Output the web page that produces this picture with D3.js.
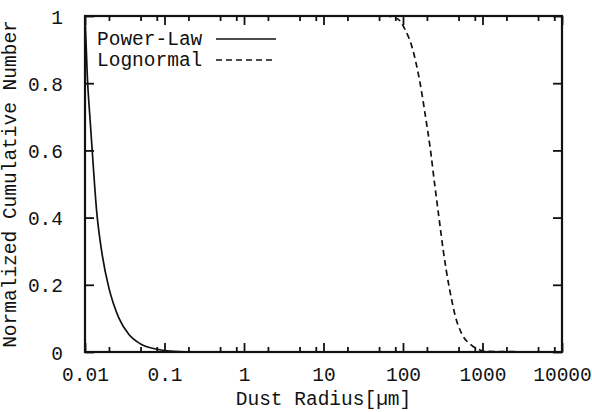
<!DOCTYPE html>
<html>
<head>
<meta charset="utf-8">
<script src="https://cdn.jsdelivr.net/npm/d3@7"></script>
<style>
  html, body { margin: 0; padding: 0; background: #fff; }
  svg text { font-family: "Liberation Mono", "DejaVu Sans Mono", monospace; fill: #111; }
</style>
</head>
<body>
<svg id="chart" width="592" height="412"></svg>
<script>
// Power-law cumulative distribution: radius (µm) and normalized number
const powerRadius = [0.01, 0.0107, 0.0116, 0.0124, 0.014, 0.0162, 0.02, 0.0227, 0.0268, 0.0357, 0.05, 0.0775, 0.117, 0.28, 1, 10000];
const powerValue  = [1.0, 0.82, 0.69, 0.59, 0.42, 0.30, 0.19, 0.145, 0.10, 0.052, 0.024, 0.009, 0.003, 0.0003, 0, 0];

// Lognormal cumulative distribution
const lognRadius = [60, 79, 92, 106, 129, 164, 195, 219, 253, 287, 322, 383, 410, 451, 547, 731, 931, 1072, 10000];
const lognValue  = [1.0, 0.995, 0.985, 0.96, 0.91, 0.80, 0.69, 0.61, 0.49, 0.39, 0.30, 0.19, 0.155, 0.11, 0.055, 0.02, 0.006, 0.002, 0];

const xTickValues = [0.01, 0.1, 1, 10, 100, 1000, 10000];
const xTickLabels = ["0.01", "0.1", "1", "10", "100", "1000", "10000"];
const yTickValues = [0, 0.2, 0.4, 0.6, 0.8, 1];
const yTickLabels = ["0", "0.2", "0.4", "0.6", "0.8", "1"];
const minorMultipliers = [2, 5, 8];

const seriesNames = ["Power-Law", "Lognormal"];
const xTitle = "Dust Radius[\u00B5m]";
const yTitle = "Normalized Cumulative Number";

const svg = d3.select("#chart");
const plotL = 85, plotR = 562, plotT = 16, plotB = 352;
const fontSize = 19.5;

const x = d3.scaleLog().domain([0.01, 10000]).range([plotL, plotR]);
const y = d3.scaleLinear().domain([0, 1]).range([plotB, plotT]);

const g = svg.append("g");

// minor ticks (inward, on bottom and top)
const minorVals = [];
xTickValues.slice(0, -1).forEach(d => minorMultipliers.forEach(m => minorVals.push(d * m)));

const xBottom = d3.axisBottom(x).tickValues(xTickValues).tickFormat((d, i) => xTickLabels[i]).tickSizeInner(-9).tickSizeOuter(0).tickPadding(15);
const xTop = d3.axisTop(x).tickValues(xTickValues).tickFormat("").tickSizeInner(-9).tickSizeOuter(0);
const xBottomMinor = d3.axisBottom(x).tickValues(minorVals).tickFormat("").tickSizeInner(-5).tickSizeOuter(0);
const xTopMinor = d3.axisTop(x).tickValues(minorVals).tickFormat("").tickSizeInner(-5).tickSizeOuter(0);
const yLeft = d3.axisLeft(y).tickValues(yTickValues).tickFormat((d, i) => yTickLabels[i]).tickSizeInner(-9).tickSizeOuter(0).tickPadding(22);
const yRight = d3.axisRight(y).tickValues(yTickValues).tickFormat("").tickSizeInner(-9).tickSizeOuter(0);

function styleAxis(sel) {
  sel.select(".domain").remove();
  sel.selectAll(".tick line").attr("stroke", "#111").attr("stroke-width", 1.8);
  sel.selectAll(".tick text").attr("font-size", fontSize).attr("font-family", "Liberation Mono");
}

g.append("g").attr("transform", `translate(0,${plotB})`).call(xBottom).call(styleAxis)
  .selectAll(".tick text").attr("dy", "0.71em");
g.append("g").attr("transform", `translate(0,${plotT})`).call(xTop).call(styleAxis);
g.append("g").attr("transform", `translate(0,${plotB})`).call(xBottomMinor).call(styleAxis);
g.append("g").attr("transform", `translate(0,${plotT})`).call(xTopMinor).call(styleAxis);
g.append("g").attr("transform", `translate(${plotL},0)`).call(yLeft).call(styleAxis)
  .selectAll(".tick text").attr("dy", "0.36em");
g.append("g").attr("transform", `translate(${plotR},0)`).call(yRight).call(styleAxis);

// curves
const line = d3.line().x(d => x(d[0])).y(d => y(d[1])).curve(d3.curveMonotoneX);
svg.append("clipPath").attr("id", "plotClip").append("rect")
  .attr("x", plotL).attr("y", plotT).attr("width", plotR - plotL).attr("height", plotB - plotT);

g.append("path")
  .datum(powerRadius.map((r, i) => [r, powerValue[i]]))
  .attr("d", line).attr("fill", "none").attr("stroke", "#111").attr("stroke-width", 1.7)
  .attr("clip-path", "url(#plotClip)");

g.append("path")
  .datum(lognRadius.map((r, i) => [r, lognValue[i]]))
  .attr("d", line).attr("fill", "none").attr("stroke", "#111").attr("stroke-width", 1.7)
  .attr("stroke-dasharray", "6,4")
  .attr("clip-path", "url(#plotClip)");

// frame
g.append("rect").attr("x", plotL).attr("y", plotT).attr("width", plotR - plotL).attr("height", plotB - plotT)
  .attr("fill", "none").attr("stroke", "#111").attr("stroke-width", 2.2);

// legend
const legendY = [39, 60];
seriesNames.forEach((name, i) => {
  g.append("text").attr("x", 97).attr("y", legendY[i]).attr("dy", "0.32em")
    .attr("font-size", fontSize).text(name);
  g.append("line").attr("x1", 216).attr("x2", 276).attr("y1", legendY[i]).attr("y2", legendY[i])
    .attr("stroke", "#111").attr("stroke-width", 1.7)
    .attr("stroke-dasharray", i === 1 ? "6,4" : null);
});

// axis titles
g.append("text").attr("x", (plotL + plotR) / 2).attr("y", 405).attr("text-anchor", "middle")
  .attr("font-size", fontSize).text(xTitle);
g.append("text").attr("transform", `translate(15.5,${(plotT + plotB) / 2}) rotate(-90)`)
  .attr("text-anchor", "middle").attr("font-size", fontSize).text(yTitle);
</script>
</body>
</html>
